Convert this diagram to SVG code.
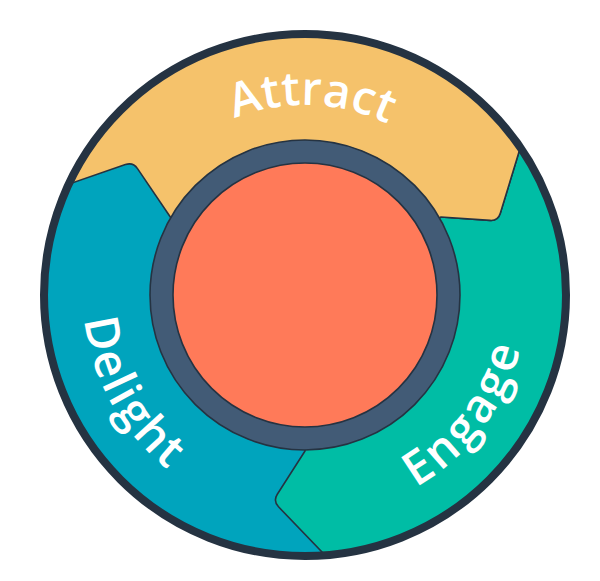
<svg xmlns="http://www.w3.org/2000/svg" width="600" height="581" viewBox="0 0 600 581">
  <style>
    .seg { stroke: #253342; stroke-width: 1.6; stroke-linejoin: round; }
    .label { font-family: "Open Sans", "Liberation Sans", sans-serif; font-weight: 600; font-size: 47px; fill: #ffffff; }
  </style>
  <defs>
    <clipPath id="disk">
      <circle cx="305" cy="295" r="261"/>
    </clipPath>
    <path id="arcAttract" d="M 115,295 A 190 190 0 0 1 495,295"/>
    <path id="arcDelight" d="M 96.4,219.1 A 222 222 0 0 0 266.5,513.6"/>
    <path id="arcEngage" d="M 305,517 A 222 222 0 0 0 523.6,256.5"/>
  </defs>
  <rect width="600" height="581" fill="#ffffff"/>
  <g clip-path="url(#disk)">
    <g id="delight">
      <circle cx="305" cy="295" r="261" fill="#00A4BD"/>
    </g>
    <g id="engage">
      <path class="seg" fill="#00BDA5" d="M 305,295 L 441,217 L 490,220.4 Q 498,221 500.3,213.3 L 540,83 L 600,83 L 600,581 L 349.7,580.8 L 278.5,506.8 Q 273,501 277.3,494.3 L 305,451 Z"/>
    </g>
    <g id="attract">
      <path class="seg" fill="#F5C26B" d="M 20,201 L 125.4,164.6 Q 133,162 137.5,168.6 L 171,218 L 305,295 L 441,217 L 490,220.4 Q 498,221 500.3,213.3 L 540,83 L 600,0 L 0,0 Z"/>
    </g>
  </g>
  <g id="hub">
    <circle cx="305" cy="295" r="155" fill="#425B76" stroke="#253342" stroke-width="1.6"/>
    <circle cx="305" cy="295" r="132" fill="#FF7A59" stroke="#253342" stroke-width="1.6"/>
  </g>
  <g id="rim">
    <circle cx="305" cy="295" r="261" fill="none" stroke="#253342" stroke-width="8"/>
  </g>
  <g id="labels">
    <text class="label"><textPath href="#arcAttract" startOffset="305" text-anchor="middle" textLength="158" lengthAdjust="spacing">Attract</textPath></text>
    <text class="label"><textPath href="#arcDelight" startOffset="190" text-anchor="middle" textLength="176" lengthAdjust="spacing">Delight</textPath></text>
    <text class="label"><textPath href="#arcEngage" startOffset="205" text-anchor="middle" textLength="178" lengthAdjust="spacing">Engage</textPath></text>
  </g>
</svg>
